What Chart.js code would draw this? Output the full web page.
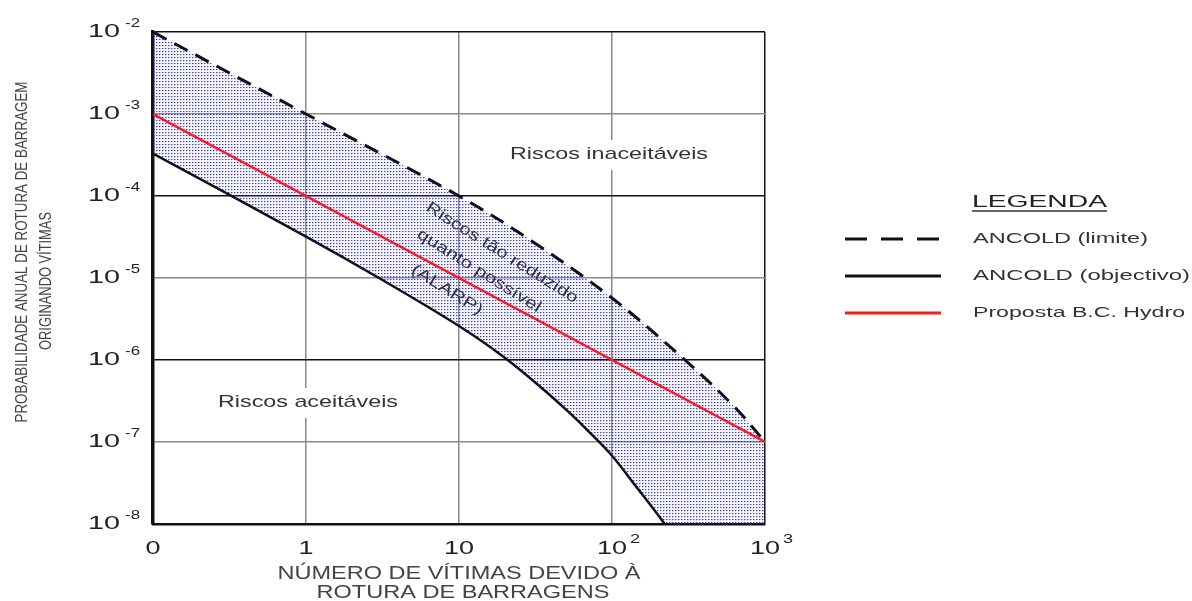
<!DOCTYPE html>
<html>
<head>
<meta charset="utf-8">
<script src="https://cdn.jsdelivr.net/npm/chart.js@4/dist/chart.umd.min.js"></script>
<style>
  html, body { margin: 0; padding: 0; background: #fff; }
  #wrap { width: 1192px; height: 601px; }
</style>
</head>
<body>
<div id="wrap"><canvas id="fnChart" width="1192" height="601"></canvas></div>
<script>
// ticks
const xTickValues = [0.1, 1, 10, 100, 1000];
const xTickBase = ['0', '1', '10', '10', '10'];
const xTickExp = ['', '', '', '2', '3'];
const yTickValues = [1e-2, 1e-3, 1e-4, 1e-5, 1e-6, 1e-7, 1e-8];
const yTickExp = ['-2', '-3', '-4', '-5', '-6', '-7', '-8'];

// ANCOLD (limite) - dashed
const limiteX = [0.1, 1, 10, 31, 100, 300, 630, 1000];
const limiteY = [1e-2, 1e-3, 1e-4, 2.7e-5, 5.7e-6, 1e-6, 2.7e-7, 1e-7];
// ANCOLD (objectivo) - solid black (continues below the axis)
const objectivoX = [0.1, 1, 3, 10, 20, 35, 52, 70, 100, 141, 221, 300, 1000];
const objectivoY = [3.3e-4, 3.2e-5, 1.0e-5, 2.6e-6, 1.06e-6, 4.5e-7, 2.33e-7, 1.36e-7, 6.8e-8, 3.0e-8, 1e-8, 4.3e-9, 1.2e-10];
// Proposta B.C. Hydro - red
const hydroX = [0.1, 1000];
const hydroY = [1e-3, 1e-7];

const FONT = '"Liberation Sans", Arial, sans-serif';

function pts(xs, ys) {
    return xs.map((x, i) => ({ x: x, y: ys[i] }));
}

// dotted blue fill
function makePattern() {
    const pc = document.createElement('canvas');
    pc.width = 3;
    pc.height = 3;
    const p = pc.getContext('2d');
    p.fillStyle = 'rgba(20,20,255,0.85)';
    p.fillRect(0, 0, 1, 1);
    p.fillStyle = 'rgba(50,50,255,0.45)';
    p.fillRect(1, 0, 1, 1);
    p.fillStyle = 'rgba(80,80,255,0.25)';
    p.fillRect(0, 1, 1, 1);
    p.fillStyle = 'rgba(120,120,255,0.12)';
    p.fillRect(2, 2, 1, 1);
    return p.createPattern(pc, 'repeat');
}

function txt(ctx, s, x, y, size, o) {
    o = o || {};
    ctx.save();
    ctx.font = size + 'px ' + FONT;
    ctx.translate(x, y);
    if (o.rot) ctx.rotate(o.rot);
    const w = ctx.measureText(s).width;
    const sx = o.width ? o.width / w : (o.sx || 1);
    ctx.scale(sx, 1);
    ctx.textAlign = o.align || 'center';
    ctx.textBaseline = 'middle';
    ctx.fillStyle = o.color || '#333';
    ctx.fillText(s, 0, 0);
    ctx.restore();
    return w * sx;
}

const decor = {
    id: 'decor',
    afterDraw(chart) {
        const ctx = chart.ctx;
        const xs = chart.scales.x, ys = chart.scales.y;

        // y tick labels
        yTickValues.forEach((v, i) => {
            const py = ys.getPixelForValue(v);
            const ew = txt(ctx, yTickExp[i], 140, py - 8, 12, { align: 'right', sx: 1.4, color: '#222' });
            txt(ctx, '10', 140 - ew - 5, py, 18, { align: 'right', sx: 1.6, color: '#222' });
        });

        // x tick labels
        xTickValues.forEach((v, i) => {
            const px = xs.getPixelForValue(v);
            const bw = txt(ctx, xTickBase[i], px, 549, 18, { sx: 1.5, color: '#222' });
            if (xTickExp[i]) {
                txt(ctx, xTickExp[i], px + bw / 2 + 3, 539, 13, { align: 'left', sx: 1.4, color: '#222' });
            }
        });

        // axis titles
        txt(ctx, 'NÚMERO DE VÍTIMAS DEVIDO À', 459, 574, 18, { width: 363, color: '#444' });
        txt(ctx, 'ROTURA DE BARRAGENS', 463, 593, 18, { width: 293, color: '#444' });
        txt(ctx, 'PROBABILIDADE ANUAL DE ROTURA DE BARRAGEM', 22, 252, 17, { width: 341, rot: -Math.PI / 2, color: '#444' });
        txt(ctx, 'ORIGINANDO VÍTIMAS', 46, 281, 17, { width: 138, rot: -Math.PI / 2, color: '#444' });

        // region labels (white gap behind)
        ctx.fillStyle = '#fff';
        ctx.fillRect(608, 140, 6, 30);
        ctx.fillRect(302, 388, 6, 30);
        txt(ctx, 'Riscos inaceitáveis', 609, 154, 17, { width: 198 });
        txt(ctx, 'Riscos aceitáveis', 308, 402, 17, { width: 180 });

        const a = 32 * Math.PI / 180;
        txt(ctx, 'Riscos tão reduzido', 502, 253, 16, { width: 176, rot: a });
        txt(ctx, 'quanto possível', 479, 271, 16, { width: 143, rot: a });
        txt(ctx, '(ALARP)', 447, 290, 16, { width: 81, rot: a });

        // legend
        const lw = txt(ctx, 'LEGENDA', 972, 202, 17, { align: 'left', width: 135, color: '#222' });
        ctx.save();
        ctx.strokeStyle = '#333';
        ctx.lineWidth = 1.5;
        ctx.beginPath();
        ctx.moveTo(972, 211);
        ctx.lineTo(972 + lw, 211);
        ctx.stroke();
        ctx.restore();

        const rows = [239, 276, 313];
        const widths = [175, 217, 212];
        chart.data.datasets.forEach((ds, i) => {
            const ly = rows[i];
            ctx.save();
            ctx.strokeStyle = ds.borderColor;
            ctx.lineWidth = 3;
            ctx.setLineDash(ds.borderDash && ds.borderDash.length ? [22, 14] : []);
            ctx.beginPath();
            ctx.moveTo(845, ly);
            ctx.lineTo(941, ly);
            ctx.stroke();
            ctx.restore();
            txt(ctx, ds.label, 973, ly, 15, { align: 'left', width: widths[i] });
        });
    }
};

const ctx = document.getElementById('fnChart').getContext('2d');

const gridColor = (c) => {
    const v = c.tick ? c.tick.value : null;
    if (v === 1e-4 || v === 1e-6 || v === 1e-2 || v === 1000) return '#111';
    return '#8a8a8a';
};

new Chart(ctx, {
    type: 'line',
    data: {
        datasets: [
            {
                label: 'ANCOLD (limite)',
                data: pts(limiteX, limiteY),
                borderColor: '#111',
                borderWidth: 3,
                borderDash: [15, 9],
                pointRadius: 0,
                tension: 0.35,
                capBezierPoints: false,
                fill: { target: 1 },
                backgroundColor: makePattern()
            },
            {
                label: 'ANCOLD (objectivo)',
                data: pts(objectivoX, objectivoY),
                borderColor: '#111',
                borderWidth: 2.5,
                pointRadius: 0,
                tension: 0.35,
                capBezierPoints: false,
                fill: false
            },
            {
                label: 'Proposta B.C. Hydro',
                data: pts(hydroX, hydroY),
                borderColor: '#ff1a1a',
                borderWidth: 2.5,
                pointRadius: 0,
                fill: false
            }
        ]
    },
    options: {
        responsive: false,
        animation: false,
        layout: { padding: { left: 153, right: 427, top: 32, bottom: 77 } },
        scales: {
            x: {
                type: 'logarithmic',
                min: 0.1,
                max: 1000,
                afterBuildTicks: (s) => { s.ticks = xTickValues.map(v => ({ value: v })); },
                ticks: { display: false },
                grid: { color: gridColor, lineWidth: 1.5, drawTicks: false },
                border: { color: '#111', width: 2.5 }
            },
            y: {
                type: 'logarithmic',
                min: 1e-8,
                max: 1e-2,
                afterBuildTicks: (s) => { s.ticks = yTickValues.map(v => ({ value: v })); },
                ticks: { display: false },
                grid: { color: gridColor, lineWidth: 1.5, drawTicks: false },
                border: { color: '#111', width: 3.5 }
            }
        },
        plugins: {
            legend: { display: false },
            tooltip: { enabled: false },
            filler: { drawTime: 'beforeDatasetsDraw' }
        }
    },
    plugins: [decor]
});
</script>
</body>
</html>
